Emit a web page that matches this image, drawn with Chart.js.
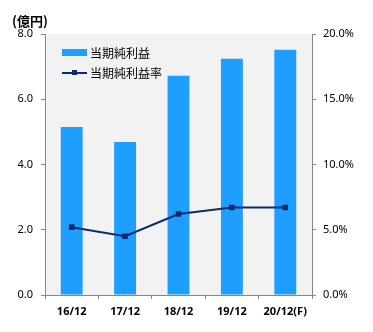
<!DOCTYPE html>
<html>
<head>
<meta charset="utf-8">
<script src="https://cdn.jsdelivr.net/npm/chart.js@4.4.0/dist/chart.umd.min.js"></script>
<style>
  body { margin: 0; background: #fff; }
  #wrap { position: relative; width: 373px; height: 332px; }
  #unit { position: absolute; left: 12px; top: 11px; font: bold 13px "Noto Sans CJK JP", sans-serif; color: #000; }
  .leg { position: absolute; left: 62px; height: 16px; font: 12px "Noto Sans CJK JP", sans-serif; color: #000; line-height: 16px; }
  .leg span.txt { position: absolute; left: 28px; top: 0; white-space: nowrap; }
  .box { position: absolute; left: 0; top: 4px; width: 25px; height: 7px; background: #1e9fff; }
  .ln { position: absolute; left: 0; top: 7px; width: 25px; height: 2px; background: #0e2a6c; }
  .sq { position: absolute; left: 10px; top: 5px; width: 5px; height: 5px; background: #0e2a6c; }
</style>
</head>
<body>
<div id="wrap">
  <canvas id="chart" width="373" height="332"></canvas>
  <div id="unit">(億円)</div>
  <div class="leg" style="top:45px"><div class="box"></div><span class="txt">当期純利益</span></div>
  <div class="leg" style="top:65px"><div class="ln"></div><div class="sq"></div><span class="txt">当期純利益率</span></div>
</div>
<script>
var labels = ["16/12", "17/12", "18/12", "19/12", "20/12(F)"];
var profit = [5.15, 4.69, 6.72, 7.24, 7.52];
var margin = [5.2, 4.5, 6.2, 6.7, 6.7];

var axisColor = "#868686";
var tickFont = { family: "Noto Sans", size: 11 };

var plotBg = {
    id: "plotBg",
    beforeDraw: function(chart) {
        var a = chart.chartArea;
        chart.ctx.save();
        chart.ctx.fillStyle = "#f2f2f2";
        chart.ctx.fillRect(a.left, a.top, a.right - a.left, a.bottom - a.top);
        chart.ctx.restore();
    }
};

new Chart(document.getElementById("chart"), {
    data: {
        labels: labels,
        datasets: [
            {
                type: "line",
                label: "当期純利益率",
                data: margin,
                yAxisID: "y2",
                borderColor: "#0e2a6c",
                backgroundColor: "#0e2a6c",
                borderWidth: 2,
                pointStyle: "rect",
                pointRadius: 2.5,
                tension: 0,
                order: 0
            },
            {
                type: "bar",
                label: "当期純利益",
                data: profit,
                yAxisID: "y",
                backgroundColor: "#1e9fff",
                categoryPercentage: 1,
                barPercentage: 0.41,
                order: 1
            }
        ]
    },
    options: {
        responsive: false,
        animation: false,
        layout: { padding: { top: 34, left: 0, right: 0, bottom: 0 } },
        plugins: { legend: { display: false }, tooltip: { enabled: false } },
        scales: {
            x: {
                offset: true,
                grid: { offset: true, drawOnChartArea: false, tickLength: 4, color: axisColor },
                border: { color: axisColor },
                ticks: { color: "#000", font: { family: "Noto Sans", size: 11, weight: "bold" }, padding: 6, maxRotation: 0 },
                afterFit: function(s) { s.height = 37; }
            },
            y: {
                position: "left",
                min: 0, max: 8,
                grid: { drawOnChartArea: false, tickLength: 4, color: axisColor },
                border: { color: axisColor },
                ticks: { stepSize: 2, color: "#000", font: tickFont, padding: 8,
                    callback: function(v) { return v.toFixed(1); } },
                afterFit: function(s) { s.width = 45; }
            },
            y2: {
                position: "right",
                min: 0, max: 20,
                grid: { drawOnChartArea: false, tickLength: 4, color: axisColor },
                border: { color: axisColor },
                ticks: { stepSize: 5, color: "#000", font: tickFont, padding: 7,
                    callback: function(v) { return v.toFixed(1) + "%"; } },
                afterFit: function(s) { s.width = 61; }
            }
        }
    },
    plugins: [plotBg]
});
</script>
</body>
</html>
